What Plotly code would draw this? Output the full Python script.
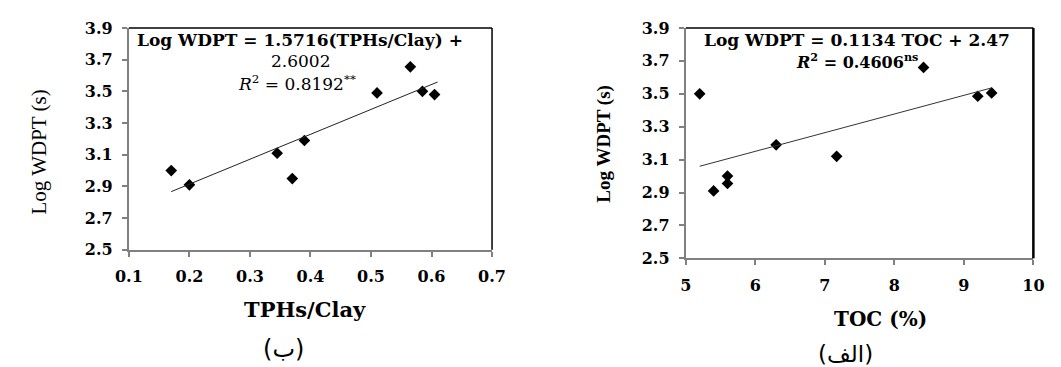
import plotly.graph_objects as go

# Left panel (ب): TPHs/Clay vs Log WDPT
tph_clay = [0.17, 0.20, 0.345, 0.37, 0.39, 0.51, 0.565, 0.585, 0.605]
wdpt_b = [3.00, 2.91, 3.11, 2.95, 3.19, 3.49, 3.655, 3.50, 3.48]
slope_b, icpt_b = 1.5716, 2.6002
fit_x_b = [0.17, 0.61]

# Right panel (الف): TOC vs Log WDPT
toc = [5.2, 5.4, 5.6, 5.6, 6.3, 7.17, 8.42, 9.2, 9.4]
wdpt_a = [3.50, 2.91, 3.00, 2.955, 3.19, 3.12, 3.66, 3.485, 3.505]
slope_a, icpt_a = 0.1134, 2.47
fit_x_a = [5.2, 9.4]

W, H = 1061, 367
def px(x): return x / W
def py(y): return 1 - y / H

SERIF = "DejaVu Serif"
TIMES = "Liberation Serif"
fig = go.Figure()

fig.add_trace(go.Scatter(x=tph_clay, y=wdpt_b, mode="markers",
                         marker=dict(symbol="diamond", size=9, color="black"),
                         xaxis="x", yaxis="y", showlegend=False))
fig.add_trace(go.Scatter(x=fit_x_b, y=[slope_b * v + icpt_b for v in fit_x_b], mode="lines",
                         line=dict(color="#222", width=1), xaxis="x", yaxis="y", showlegend=False))
fig.add_trace(go.Scatter(x=toc, y=wdpt_a, mode="markers",
                         marker=dict(symbol="diamond", size=9, color="black"),
                         xaxis="x2", yaxis="y2", showlegend=False))
fig.add_trace(go.Scatter(x=fit_x_a, y=[slope_a * v + icpt_a for v in fit_x_a], mode="lines",
                         line=dict(color="#333", width=1), xaxis="x2", yaxis="y2", showlegend=False))

tickfont = dict(family=SERIF, size=16, color="black", weight="bold")
axis_common = dict(showgrid=False, zeroline=False, showline=True, linecolor="#808080", linewidth=2,
                   ticks="outside", tickcolor="#808080", ticklen=5, tickwidth=1.5, tickfont=tickfont,
                   ticklabelstandoff=6)

fig.update_layout(
    width=W, height=H, margin=dict(l=0, r=0, t=0, b=0),
    paper_bgcolor="white", plot_bgcolor="white",
    xaxis=dict(domain=[px(118), px(491)], range=[0.1, 0.7], dtick=0.1, tick0=0.1, tickformat=".1f",
               anchor="y", **axis_common),
    yaxis=dict(domain=[py(254), py(20)], range=[2.5, 3.9], dtick=0.2, tick0=2.5, tickformat=".1f",
               anchor="x", **axis_common),
    xaxis2=dict(domain=[px(690), px(1047)], range=[5, 10], dtick=1, tick0=5,
                anchor="y2", **axis_common),
    yaxis2=dict(domain=[py(263), py(20)], range=[2.5, 3.9], dtick=0.2, tick0=2.5, tickformat=".1f",
                anchor="x2", **axis_common),
)

# Black top/right borders of plot areas
for x0, x1, y0, y1, w in [(118, 491, 20, 254, 1.5), (690, 1047, 20, 263, 2.5)]:
    fig.add_shape(type="line", xref="paper", yref="paper", x0=px(x0), x1=px(x1), y0=py(y0), y1=py(y0),
                  line=dict(color="black", width=1.5))
    fig.add_shape(type="line", xref="paper", yref="paper", x0=px(x1), x1=px(x1), y0=py(y0), y1=py(y1),
                  line=dict(color="black", width=w))

def ann(text, x, y, size=14, bold=False, angle=0, family=SERIF):
    t = f"<b>{text}</b>" if bold else text
    fig.add_annotation(text=t, x=px(x), y=py(y), xref="paper", yref="paper", showarrow=False,
                       xanchor="center", yanchor="middle", textangle=angle,
                       font=dict(family=family, size=size, color="black"))

# Equations
ann("Log WDPT = 1.5716(TPHs/Clay) +", 294, 33, size=17, bold=True)
ann("2.6002", 294, 55, size=17)
ann("<i>R</i><sup>2</sup> = 0.8192<sup>**</sup>", 291, 78, size=17)
ann("Log WDPT = 0.1134 TOC + 2.47", 866, 33, size=17, bold=True)
ann("<i>R</i><sup>2</sup> = 0.4606<sup>ns</sup>", 866, 55, size=16, bold=True)

# Axis titles
ann("Log WDPT (s)", 26, 151, size=21, angle=-90, family=TIMES)
ann("Log WDPT (s)", 606, 142, size=19, angle=-90, bold=True, family=TIMES)
ann("TPHs/Clay", 299, 317, size=21, bold=True)
ann("TOC (%)", 890, 327, size=20, bold=True)

# Captions
ann("(ب)", 277, 359, size=24, family="DejaVu Sans")
ann("(الف)", 854, 364, size=23, family="DejaVu Sans")

fig.write_html("out.html")
